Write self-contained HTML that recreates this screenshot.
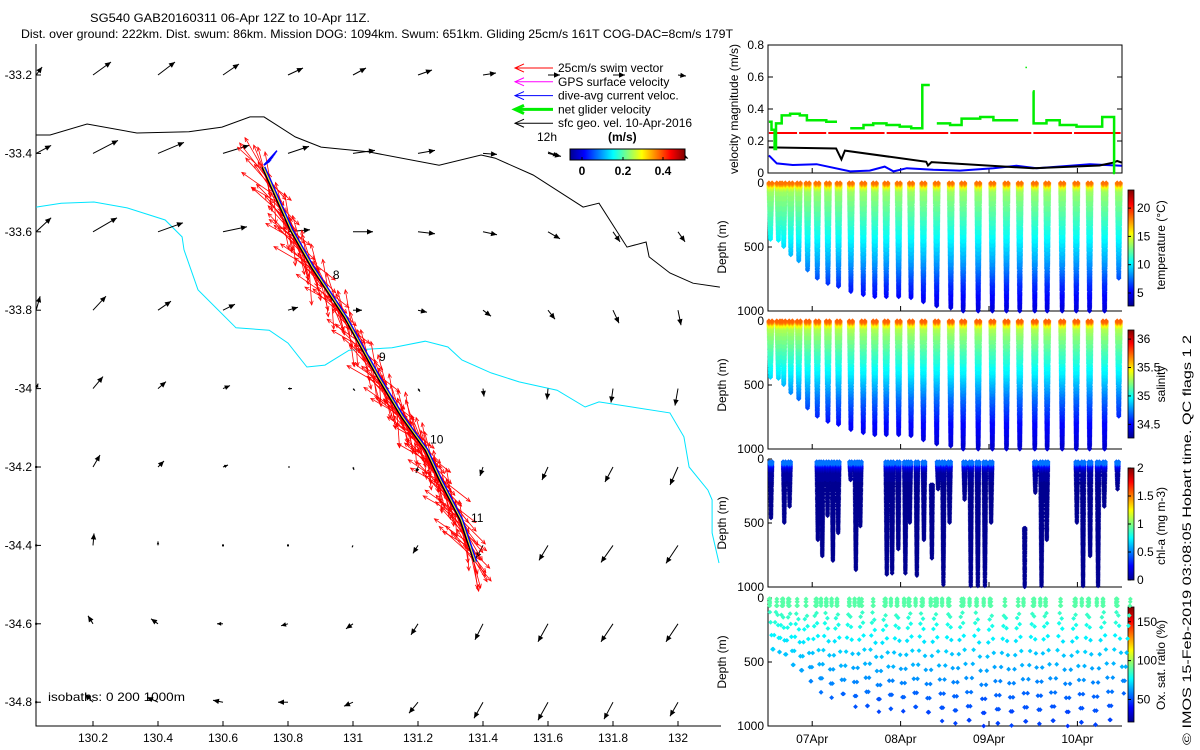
<!DOCTYPE html>
<html><head><meta charset="utf-8"><title>SG540 glider plot</title>
<style>
html,body{margin:0;padding:0;background:#fff;}
svg{display:block;font-family:"Liberation Sans",sans-serif;}
</style></head>
<body>
<svg id="root" width="1200" height="750" viewBox="0 0 1200 750" xmlns="http://www.w3.org/2000/svg">
<defs>
<linearGradient id="jetV" x1="0" y1="1" x2="0" y2="0">
<stop offset="0" stop-color="#00008f"/><stop offset="0.125" stop-color="#0000ff"/><stop offset="0.375" stop-color="#00ffff"/><stop offset="0.625" stop-color="#ffff00"/><stop offset="0.875" stop-color="#ff0000"/><stop offset="1" stop-color="#800000"/>
</linearGradient>
<linearGradient id="jetH" x1="0" y1="0" x2="1" y2="0">
<stop offset="0" stop-color="#00008f"/><stop offset="0.125" stop-color="#0000ff"/><stop offset="0.375" stop-color="#00ffff"/><stop offset="0.625" stop-color="#ffff00"/><stop offset="0.875" stop-color="#ff0000"/><stop offset="1" stop-color="#800000"/>
</linearGradient>
</defs>
<text x="90" y="22" font-size="12" textLength="280" lengthAdjust="spacingAndGlyphs">SG540 GAB20160311 06-Apr 12Z to 10-Apr 11Z.</text>
<text x="21" y="38" font-size="12" textLength="712" lengthAdjust="spacingAndGlyphs">Dist. over ground: 222km. Dist. swum: 86km. Mission DOG: 1094km. Swum: 651km. Gliding 25cm/s 161T COG-DAC=8cm/s 179T</text>
<g id="map"></g>
<g id="vel"></g>
<g id="temp"></g>
<g id="sal"></g>
<g id="chl"></g>
<g id="oxy"></g>
<text transform="translate(1191,745) rotate(-90)" font-size="12" textLength="410" lengthAdjust="spacingAndGlyphs">© IMOS 15-Feb-2019 03:08:05 Hobart time. QC flags 1  2</text>
</svg>
<script>
// ===== MAP DATA =====
const gridLons=[130.025,130.2,130.4,130.6,130.8,131.0,131.2,131.4,131.6,131.8,132.0];
const gridLats=[-33.2,-33.4,-33.6,-33.8,-34.0,-34.2,-34.4,-34.6,-34.8];
const uRows=[
[6,18,17,16,15,13,14,13,12,12,8],
[15,25,26,26,21,22,17,14,13,12,10],
[15,24,25,24,22,20,17,14,12,7,7],
[4,13,13,12,10,9,9,8,7,6,3],
[2,10,8,7,4,2,2,1,-1,-2,-3],
[0,7,6,5,2,1,-2,-3,-6,-8,-8],
[0,1,0,0,0,-1,-5,-7,-9,-12,-12],
[0,-5,-7,-6,-7,-7,-7,-8,-10,-12,-12],
[0,-8,-11,-10,-10,-9,-9,-9,-10,-9,-8]];
const vRows=[
[8,13,13,11,7,7,5,2,0,0,-1],
[8,13,11,8,7,3,3,-1,-3,-4,-5],
[14,14,9,5,2,0,-2,-3,-7,-10,-10],
[14,14,9,6,3,0,-2,-6,-9,-13,-15],
[5,12,7,3,0,-2,-3,-8,-11,-14,-17],
[0,12,6,2,0,-3,-6,-9,-13,-15,-18],
[0,12,4,0,0,-2,-8,-13,-15,-17,-18],
[0,8,5,0,-2,-5,-11,-16,-18,-18,-18],
[0,8,5,2,0,-4,-11,-16,-18,-17,-14]];
const coastLon=[130.025,130.068,130.182,130.335,130.495,130.597,130.683,130.726,130.822,130.902,131.046,131.265,131.394,131.437,131.554,131.708,131.757,131.843,131.902,131.911,131.975,132.046,132.129];
const coastLat=[-33.353,-33.353,-33.325,-33.348,-33.345,-33.333,-33.307,-33.307,-33.358,-33.384,-33.396,-33.430,-33.404,-33.412,-33.455,-33.537,-33.527,-33.639,-33.626,-33.664,-33.705,-33.731,-33.741];
const isoLon=[130.025,130.102,130.203,130.305,130.422,130.474,130.480,130.523,130.640,130.742,130.800,130.858,130.914,130.988,131.120,131.222,131.292,131.335,131.425,131.511,131.628,131.714,131.757,131.975,132.018,132.034,132.092,132.105,132.105,132.126];
const isoLat=[-33.537,-33.527,-33.524,-33.539,-33.570,-33.613,-33.646,-33.748,-33.845,-33.851,-33.884,-33.945,-33.940,-33.902,-33.896,-33.879,-33.894,-33.927,-33.960,-33.983,-34.004,-34.047,-34.034,-34.062,-34.123,-34.200,-34.259,-34.284,-34.368,-34.445];
const trackLon=[130.72,130.806,130.871,130.972,131.074,131.148,131.222,131.265,131.329,131.372];
const trackLat=[-33.435,-33.595,-33.69,-33.817,-33.97,-34.072,-34.157,-34.233,-34.335,-34.442];
const diveLabels=["8","9","10","11"];
const diveLabelLon=[130.938,131.08,131.237,131.363];
const diveLabelLat=[-33.72,-33.93,-34.14,-34.34];
const swimAng=[330,150,312,165,345,140,322,172,338,128,318,158,350,147,326,176,305,152,334,162,300,135,342,168,316,143];
const swimLen=[34,30,40,26,36,32,28,42,30,38,33,27,39,31,35,29,41,30,37,28,44,25];

// ===== TIME SERIES DATA =====
const dayTicks=[7,8,9,10];
const dayLabels=["07Apr","08Apr","09Apr","10Apr"];
const greenT=[6.51,6.54,6.575,6.59,6.655,6.75,6.86,6.94,7.05,7.16,7.28,7.43,7.58,7.69,7.84,7.99,8.12,8.245,8.33,8.41,8.56,8.69,8.90,9.05,9.20,9.33,9.495,9.505,9.65,9.80,9.99,10.28,10.415,10.425];
const greenV=[0.32,0.27,0.15,0.31,0.36,0.37,0.36,0.33,0.33,0.32,null,0.28,0.30,0.31,0.30,0.29,0.28,0.55,null,0.31,0.30,0.34,0.35,0.33,0.33,null,0.51,0.31,0.33,0.30,0.29,0.35,0.0,null];
const swimSpeed=0.25;
const redGaps=[6.84,7.17,7.83,8.55,9.49,9.95];
const blackT=[6.51,7.27,7.33,7.37,8.29,8.31,8.35,9.30,9.50,10.25,10.41,10.45,10.5];
const blackV=[0.16,0.153,0.085,0.14,0.07,0.047,0.068,0.036,0.03,0.047,0.065,0.075,0.065];
const blueT=[6.51,6.60,6.78,7.05,7.43,7.65,7.82,7.92,8.07,8.37,8.67,9.05,9.31,9.54,10.03,10.14,10.5];
const blueV=[0.11,0.06,0.05,0.055,0.01,0.015,0.04,0.01,0.03,0.02,0.015,0.03,0.045,0.03,0.05,0.055,0.045];
const strayT=[9.42];
const strayV=[0.66];

// ===== PROFILE DATA =====
const diveT=[6.51,6.60,6.66,6.74,6.83,6.93,7.04,7.16,7.28,7.42,7.56,7.69,7.82,7.96,8.10,8.24,8.39,8.55,8.69,8.86,9.02,9.18,9.33,9.50,9.64,9.81,9.97,10.12,10.29,10.45];
const diveMax=[445,455,500,563,615,680,745,789,810,849,875,888,888,888,901,935,961,979,1000,1000,1000,1000,1000,1000,1000,1000,1000,1000,1000,745];
const profDepth=[0,15,30,60,100,250,400,600,800,1000];
const tempProf=[18.2,17,15,13.6,13.2,12,10.6,8.6,6,4.3];
const salProf=[35.75,35.65,35.45,35.3,35.25,35.1,34.95,34.7,34.5,34.4];
const oxProf=[90,90,90,88,86,78,70,62,52,48];
const chlDepth=[0,20,35,60,100,1000];
const chlProf=[0.15,0.45,0.5,0.2,0.05,0.02];
const chlT=[6.52,6.67,6.73,7.05,7.10,7.16,7.22,7.28,7.42,7.48,7.53,7.83,7.89,7.96,8.04,8.09,8.17,8.25,8.34,8.41,8.47,8.54,8.71,8.78,8.86,8.94,9.01,9.39,9.51,9.58,9.64,9.98,10.05,10.13,10.22,10.29,10.44];
const chlMax=[463,502,372,633,763,451,802,581,164,867,529,906,893,711,893,502,919,633,776,242,984,502,320,1000,997,1000,502,1000,268,1000,633,502,1000,763,1000,372,242];
const chlTop=[20,20,20,20,20,20,20,20,20,20,20,20,20,20,20,20,20,20,200,20,20,20,20,20,20,20,20,540,20,20,20,20,20,20,20,20,20];
const oxSampleDepth=[8,30,60,110,190,290,400,510,620,730,840,950];
const oxOffset=[0,22,41,13,55,30,7,48,19,36,3,60,26,44,11,52,17,38,5,58,29,46,14,33,8,50,21,40,2,27];

// ===== HELPERS =====
const NS="http://www.w3.org/2000/svg";
function el(tag,parent,attrs){const e=document.createElementNS(NS,tag);for(const k in attrs)e.setAttribute(k,attrs[k]);parent.appendChild(e);return e;}
function interp(xs,ys,x){if(x<=xs[0])return ys[0];for(let i=1;i<xs.length;i++){if(x<=xs[i]){const f=(x-xs[i-1])/(xs[i]-xs[i-1]);return ys[i-1]+f*(ys[i]-ys[i-1]);}}return ys[ys.length-1];}
function cl(v){return Math.max(0,Math.min(1,v));}
function jet(f){f=cl(f);const r=cl(1.5-Math.abs(4*f-3)),g=cl(1.5-Math.abs(4*f-2)),b=cl(1.5-Math.abs(4*f-1));return `rgb(${Math.round(r*255)},${Math.round(g*255)},${Math.round(b*255)})`;}
const mapX=lon=>93+(lon-130.2)*325;
const mapY=lat=>75+(-33.2-lat)*392;
const tX=t=>768+(t-6.5)*88.4;
const velY=v=>173-v*160;

// ===== MAP =====
const map=document.getElementById('map');
let ax=el('path',map,{d:'M36,44V726H721',fill:'none',stroke:'#000','stroke-width':1});


const latTicks=[-33.2,-33.4,-33.6,-33.8,-34,-34.2,-34.4,-34.6,-34.8];
latTicks.forEach(lat=>{const y=mapY(lat);
 el('line',map,{x1:36,x2:41,y1:y,y2:y,stroke:'#000'});
 const t=el('text',map,{x:32,y:y+4,'font-size':12,'text-anchor':'end'});t.textContent=String(lat);
 
 });
const lonTicks=[130.2,130.4,130.6,130.8,131,131.2,131.4,131.6,131.8,132];
lonTicks.forEach(lon=>{const x=mapX(lon);
 el('line',map,{x1:x,x2:x,y1:726,y2:721,stroke:'#000'});
 const t=el('text',map,{x:x,y:742,'font-size':12,'text-anchor':'middle'});t.textContent=String(lon);
 
 });
let cp=coastLon.map((l,i)=>`${mapX(l).toFixed(1)},${mapY(coastLat[i]).toFixed(1)}`).join(' ');
let coast=el('polyline',map,{points:cp,fill:'none',stroke:'#000','stroke-width':1});


let ip=isoLon.map((l,i)=>`${mapX(l).toFixed(1)},${mapY(isoLat[i]).toFixed(1)}`).join(' ');
let iso=el('polyline',map,{points:ip,fill:'none',stroke:'#00e5ff','stroke-width':1});


function arrow(parent,x,y,dx,dy,color,w,hs,open){
 const L=Math.hypot(dx,dy);
 const g=el('g',parent,{});
 if(L<0.5){el('rect',g,{x:x-1,y:y-1,width:2,height:2,fill:color});return g;}
 el('line',g,{x1:x,y1:y,x2:x+dx,y2:y+dy,stroke:color,'stroke-width':w});
 const ux=dx/L,uy=dy/L,h=Math.min(hs,L*0.7),hw=h*0.45;
 const bx=x+dx-ux*h,by=y+dy-uy*h;
 if(open){el('polyline',g,{points:`${bx-uy*hw},${by+ux*hw} ${x+dx},${y+dy} ${bx+uy*hw},${by-ux*hw}`,fill:'none',stroke:color,'stroke-width':w});}
 else el('polygon',g,{points:`${x+dx},${y+dy} ${bx-uy*hw},${by+ux*hw} ${bx+uy*hw},${by-ux*hw}`,fill:color});
 return g;}
gridLats.forEach((lat,r)=>gridLons.forEach((lon,c)=>{
 const a=arrow(map,mapX(lon),mapY(lat),uRows[r][c],-vRows[r][c],'#000',1,6);
 
 }));
const trackPts=trackLon.map((l,i)=>[mapX(l),mapY(trackLat[i])]);
function trackAt(f){const n=trackPts.length-1;const p=f*n;const i=Math.min(n-1,Math.floor(p));const r=p-i;
 return [trackPts[i][0]+r*(trackPts[i+1][0]-trackPts[i][0]),trackPts[i][1]+r*(trackPts[i+1][1]-trackPts[i][1])];}
const red=el('g',map,{});


const NV=320;
for(let k=0;k<NV;k++){const p=trackAt(k/(NV-1));const a=swimAng[k%swimAng.length]*Math.PI/180;const L=swimLen[(k*7)%swimLen.length];
 arrow(red,p[0],p[1],Math.sin(a)*L,-Math.cos(a)*L,'#ff0000',0.8,4,true);}
const blue=el('g',map,{});


el('polyline',blue,{points:trackPts.map(p=>`${p[0]+2},${p[1]}`).join(' '),fill:'none',stroke:'#0000ff','stroke-width':3});
for(let k=0;k<8;k++){const p=trackAt(0);el('line',blue,{x1:p[0]+2,y1:p[1]-2,x2:p[0]+8+k,y2:p[1]-6-k*1.5,stroke:'#0000ff','stroke-width':1.5});}
let yl=el('polyline',map,{points:trackPts.map(p=>`${p[0]+1.5},${p[1]}`).join(' '),fill:'none',stroke:'#ffff00','stroke-width':1});


let tl=el('polyline',map,{points:trackPts.map(p=>`${p[0]},${p[1]}`).join(' '),fill:'none',stroke:'#000','stroke-width':1.2});


diveLabels.forEach((s,i)=>{const t=el('text',map,{x:mapX(diveLabelLon[i]),y:mapY(diveLabelLat[i]),'font-size':12});t.textContent=s;
 
 });
const leg=el('g',map,{});


const legText=["25cm/s swim vector","GPS surface velocity","dive-avg current veloc.","net glider velocity","sfc geo. vel. 10-Apr-2016"];
const legCol=["#ff0000","#ff00ff","#0000ff","#00ee00","#000000"];
legText.forEach((s,i)=>{const y=68+i*13.8;const w=i==3?3:1;
 arrow(leg,553,y,-38,0,legCol[i],w,9,true);
 const t=el('text',leg,{x:558,y:y+4,'font-size':12});t.textContent=s;
 
 });
let t12=el('text',leg,{x:537,y:141,'font-size':12});t12.textContent='12h';
let tms=el('text',leg,{x:608,y:141,'font-size':12,'font-weight':'bold'});tms.textContent='(m/s)';
arrow(leg,548,152,10,4,'#000',1,5);
let mcb=el('rect',leg,{x:570,y:149,width:115,height:11,fill:'url(#jetH)',stroke:'#000','stroke-width':1});


[[0,582],[0.2,623],[0.4,663]].forEach(([v,x])=>{el('line',leg,{x1:x,x2:x,y1:160,y2:157,stroke:'#000'});
 const t=el('text',leg,{x:x,y:175,'font-size':12,'font-weight':'bold','text-anchor':'middle'});t.textContent=String(v);});
let isot=el('text',map,{x:48,y:701,'font-size':12,textLength:137,lengthAdjust:'spacingAndGlyphs'});isot.textContent='isobaths: 0   200   1000m';



// ===== VELOCITY PANEL =====
const vel=document.getElementById('vel');
let vb=el('rect',vel,{x:768,y:45,width:354,height:128,fill:'none',stroke:'#000'});


[0,0.2,0.4,0.6,0.8].forEach(v=>{const y=velY(v);
 el('line',vel,{x1:768,x2:773,y1:y,y2:y,stroke:'#000'});el('line',vel,{x1:1117,x2:1122,y1:y,y2:y,stroke:'#000'});
 const t=el('text',vel,{x:764,y:y+4,'font-size':12,'text-anchor':'end'});t.textContent=String(v);
 
 });
dayTicks.forEach(d=>{el('line',vel,{x1:tX(d),x2:tX(d),y1:173,y2:168,stroke:'#000'});});
let vlab=el('text',vel,{transform:'translate(738,109) rotate(-90)','font-size':12,'text-anchor':'middle'});vlab.textContent='velocity magnitude (m/s)';


function linePath(T,V){return T.map((t,i)=>`${i?'L':'M'}${tX(t).toFixed(1)},${velY(V[i]).toFixed(1)}`).join('');}
let rp='';let s=6.51;redGaps.concat([10.5]).forEach(g=>{rp+=`M${tX(s)},${velY(swimSpeed)}H${tX(g)-1}`;s=g+0.012;});
let rl=el('path',vel,{d:rp,stroke:'#ff0000','stroke-width':2,fill:'none'});


let bl=el('path',vel,{d:linePath(blueT,blueV),stroke:'#0000ff','stroke-width':2,fill:'none'});


let kl=el('path',vel,{d:linePath(blackT,blackV),stroke:'#000','stroke-width':2,fill:'none'});


let gd='',pen=false;
for(let i=0;i<greenT.length;i++){if(greenV[i]==null){pen=false;continue;}
 const x=tX(greenT[i]).toFixed(1),y=velY(greenV[i]).toFixed(1);
 gd+=pen?`V${y}`:`M${x},${y}`;pen=true;
 const xn=i+1<greenT.length?tX(greenT[i+1]).toFixed(1):x;gd+=`H${xn}`;}
let gl=el('path',vel,{d:gd,stroke:'#00ee00','stroke-width':2.5,fill:'none'});


strayT.forEach((t,i)=>{el('rect',vel,{x:tX(t)-0.7,y:velY(strayV[i])-0.7,width:1.5,height:1.5,fill:'#00ee00'});});

// ===== DEPTH PANELS =====
function depthPanel(id,top,name,cbTop,cbBot,vmin,vmax,cbTicks,cbTickFmt,cbLabel,cbLabelY,showX){
 const g=document.getElementById(id);
 const ax=el('path',g,{d:`M768,${top}V${top+128}H1122`,fill:'none',stroke:'#000'});
 
 
 [0,500,1000].forEach(d=>{const y=top+d*0.128;el('line',g,{x1:768,x2:772,y1:y,y2:y,stroke:'#000'});
  const t=el('text',g,{x:764,y:y+4,'font-size':12,'text-anchor':'end'});t.textContent=String(d);
  
  });
 dayTicks.forEach((d,i)=>{el('line',g,{x1:tX(d),x2:tX(d),y1:top+128,y2:top+123,stroke:'#000'});
  if(showX){const t=el('text',g,{x:tX(d),y:top+145,'font-size':12,'text-anchor':'middle'});t.textContent=dayLabels[i];
   
   }});
 const yl=el('text',g,{transform:`translate(726,${top+64}) rotate(-90)`,'font-size':12,'text-anchor':'middle'});yl.textContent='Depth (m)';
 
 
 const cb=el('rect',g,{x:1128,y:cbTop,width:6,height:cbBot-cbTop,fill:'url(#jetV)',stroke:'#000','stroke-width':0.8});
 
 
 cbTicks.forEach(v=>{const y=cbBot-(v-vmin)/(vmax-vmin)*(cbBot-cbTop);
  el('line',g,{x1:1128,x2:1131,y1:y,y2:y,stroke:'#000'});
  const t=el('text',g,{x:1137,y:y+4,'font-size':12});t.textContent=cbTickFmt(v);
  
  });
 const cl=el('text',g,{transform:`translate(1165,${cbLabelY}) rotate(-90)`,'font-size':12,'text-anchor':'middle'});cl.textContent=cbLabel;
 
 
 return g;}
function scatter(g,name,pts,vmin,vmax,r){
 const bins={};
 pts.forEach(([x,y,v])=>{const k=Math.round(cl((v-vmin)/(vmax-vmin))*63);(bins[k]=bins[k]||[]).push(`M${x.toFixed(1)},${(y-r).toFixed(1)}l${r},${r}l${-r},${r}l${-r},${-r}z`);});
 const sg=el('g',g,{});
 
 
 Object.keys(bins).forEach(k=>{el('path',sg,{d:bins[k].join(''),fill:jet(k/63)});});}
function divePts(top,T,Max,Top,depths,prof,step,dt){
 const pts=[];
 T.forEach((t,i)=>{const mx=Max[i];const tp=Top?Top[i]:0;
  for(let d=tp;d<=mx;d+=step){const f=d/mx;const v=interp(depths,prof,d);const y=top+d*0.128;
   pts.push([tX(t+f*dt),y,v]);pts.push([tX(t+dt*2-f*dt),y,v]);}});
 return pts;}
const tg=depthPanel('temp',183,'temperature',190,306,2.7,23.2,[5,10,15,20],v=>String(v),'temperature (°C)',245,false);
scatter(tg,'temperature',divePts(183,diveT,diveMax,null,profDepth,tempProf,8,0.018),2.7,23.2,2.6);
const sg2=depthPanel('sal',321,'salinity',330,438,34.26,36.16,[34.5,35,35.5,36],v=>String(v),'salinity',384,false);
scatter(sg2,'salinity',divePts(321,diveT,diveMax,null,profDepth,salProf,8,0.018),34.26,36.16,2.6);
const cg=depthPanel('chl',459,'chlorophyll',468,580,0,2,[0,0.5,1,1.5,2],v=>String(v),'chl-a (mg m-3)',526,false);
scatter(cg,'chlorophyll',divePts(459,chlT,chlMax,chlTop,chlDepth,chlProf,9,0.014),0,2,2.4);
const og=depthPanel('oxy',598,'oxygen',607,722,21,169,[50,100,150],v=>String(v),'Ox. sat. ratio (%)',665,true);
const oxPts=[];
diveT.forEach((t,i)=>{const dt=i+1<diveT.length?diveT[i+1]-t:0.15;const mx=diveMax[i];const off=oxOffset[i%oxOffset.length];
 oxSampleDepth.forEach((d0,j)=>{const d=j<3?d0:Math.min(mx,d0+off);if(d0>mx)return;const f=d/mx;const v=interp(profDepth,oxProf,d);const y=598+d*0.128;
  oxPts.push([tX(t+f*dt*0.5),y,v]);oxPts.push([tX(t+dt-f*dt*0.5),y,v]);});});
chlT.forEach(t=>{[5,15,25,35,45,60].forEach(d=>oxPts.push([tX(t),598+d*0.128,interp(profDepth,oxProf,d)]));});
scatter(og,'oxygen',oxPts,21,169,2.4);
</script>
</body></html>
